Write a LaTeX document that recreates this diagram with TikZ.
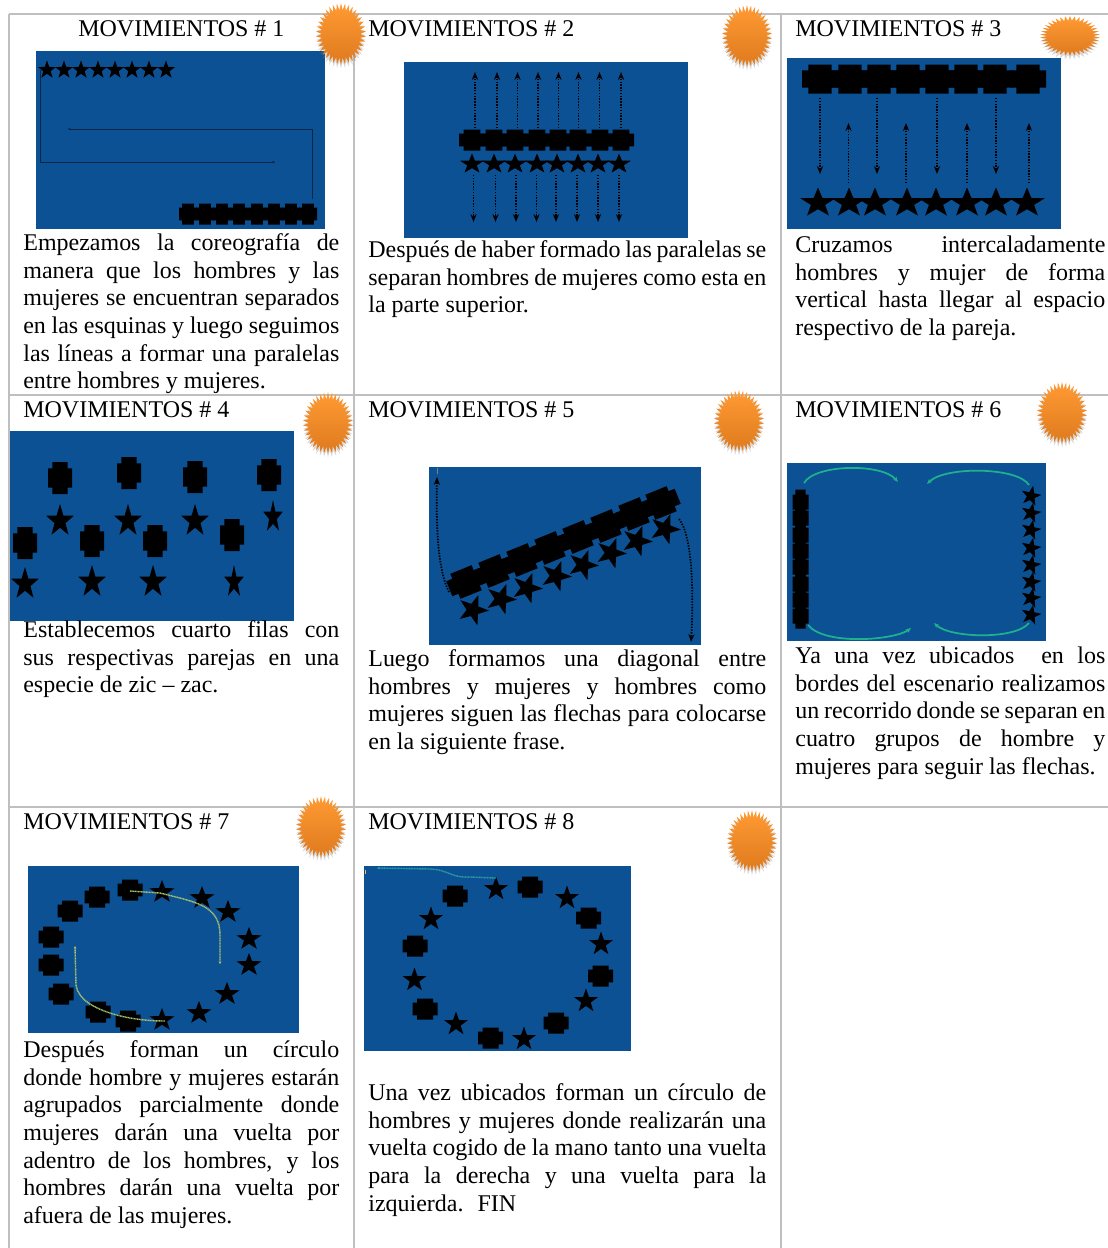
\documentclass[tikz,border=0pt]{standalone}
\usepackage{fontspec}
\setmainfont{Liberation Serif}
\usepackage{xcolor}
\usetikzlibrary{shapes.geometric, shadows, arrows.meta}
\definecolor{azul}{HTML}{0C5194}
\definecolor{rejilla}{HTML}{BFBFBF}
\definecolor{verde}{HTML}{1FB08C}
\definecolor{lima}{HTML}{A8C46C}
\definecolor{turquesa}{HTML}{2A9DA0}
\definecolor{oscuro}{HTML}{0A2645}
\definecolor{solclaro}{HTML}{FF9A33}
\definecolor{soloscuro}{HTML}{DE7A1E}
\tikzset{
  rejillalinea/.style={draw=rejilla, line width=1pt},
  fondo/.style={fill=azul},
  titulo/.style={anchor=base west, inner sep=0pt, font=\fontsize{13.65}{15.7}\selectfont},
  parrafo/.style={anchor=north west, inner sep=0pt, align=justify, font=\fontsize{13.65}{15.7}\selectfont, execute at begin node=\strut},
  estrella/.style={star, star points=5, star point ratio=2.5, fill=black, inner sep=0pt, minimum size=#1*0.02cm, transform shape},
  estrella/.default=20,
  sol/.style={star, star points=38, star point ratio=1.3, inner sep=0pt, minimum size=1cm, transform shape,
    top color=solclaro, bottom color=soloscuro,
    drop shadow={opacity=.3, shadow xshift=0pt, shadow yshift=-2pt}},
  flecha/.style={dash pattern=on .8pt off .8pt, line width=1pt, -{Stealth[length=4.5pt, width=3.5pt]}, black},
  linea/.style={draw=oscuro, line width=.5pt, -{Stealth[length=1.5pt, width=1.5pt]}},
  arco/.style={draw=verde, line width=1pt, -{Stealth[length=3pt, width=2.5pt]}},
  hilo/.style={dash pattern=on .6pt off .3pt, line width=.8pt, -{Stealth[length=1.5pt, width=1.5pt]}},
  hombre/.pic={\fill[black] (-.5,-.3) -- (-.32,-.3) -- (-.32,-.5) -- (.32,-.5) -- (.32,-.3) -- (.5,-.3)
    -- (.5,.3) -- (.32,.3) -- (.32,.5) -- (-.32,.5) -- (-.32,.3) -- (-.5,.3) -- cycle;}
}
\begin{document}
\begin{tikzpicture}[x=0.02cm, y=-0.02cm]
\useasboundingbox (0, 0) rectangle (1108, 1248);

\draw[rejillalinea] (9, 14) -- (1108, 14);
\draw[rejillalinea] (9, 395) -- (1108, 395);
\draw[rejillalinea] (9, 807) -- (1108, 807);
\draw[rejillalinea] (9, 14) -- (9, 1248);
\draw[rejillalinea] (354, 14) -- (354, 1248);
\draw[rejillalinea] (781, 14) -- (781, 1248);

\fill[fondo] (36, 51) rectangle (325, 229);
\fill[fondo] (404, 62) rectangle (688, 238);
\fill[fondo] (787, 58) rectangle (1061, 229);
\fill[fondo] (10, 431) rectangle (294, 621);
\fill[fondo] (429, 467) rectangle (701, 645);
\fill[fondo] (787, 463) rectangle (1046, 641);
\fill[fondo] (28, 866) rectangle (299, 1033);
\fill[fondo] (364, 866) rectangle (631, 1051);

\node[titulo] (t1) at (78, 36) {MOVIMIENTOS \# 1};
\node[titulo] (t2) at (368, 36) {MOVIMIENTOS \# 2};
\node[titulo] (t3) at (795, 36) {MOVIMIENTOS \# 3};
\node[titulo] (t4) at (23, 417) {MOVIMIENTOS \# 4};
\node[titulo] (t5) at (368, 417) {MOVIMIENTOS \# 5};
\node[titulo] (t6) at (795, 417) {MOVIMIENTOS \# 6};
\node[titulo] (t7) at (23, 829) {MOVIMIENTOS \# 7};
\node[titulo] (t8) at (368, 829) {MOVIMIENTOS \# 8};

\node[parrafo, text width=316*0.02cm] (p1) at (23, 231) {Empezamos la coreografía de\linebreak manera que los hombres y las\linebreak mujeres se encuentran separados\linebreak en las esquinas y luego seguimos\linebreak las líneas a formar una paralelas\linebreak entre hombres y mujeres.};
\node[parrafo, text width=398*0.02cm] (p2) at (368, 238) {Después de haber formado las paralelas se\linebreak separan hombres de mujeres como esta en\linebreak la parte superior.};
\node[parrafo, text width=310*0.02cm] (p3) at (795, 233) {Cruzamos intercaladamente\linebreak hombres y mujer de forma\linebreak vertical hasta llegar al espacio\linebreak respectivo de la pareja.};
\node[parrafo, text width=316*0.02cm] (p4) at (23, 618) {Establecemos cuarto filas con\linebreak sus respectivas parejas en una\linebreak especie de zic – zac.};
\node[parrafo, text width=398*0.02cm] (p5) at (368, 647) {Luego formamos una diagonal entre\linebreak hombres y mujeres y hombres como\linebreak mujeres siguen las flechas para colocarse\linebreak en la siguiente frase.};
\node[parrafo, text width=310*0.02cm] (p6) at (795, 644) {Ya una vez ubicados~ en los\linebreak bordes del escenario realizamos\linebreak un recorrido donde se separan en\linebreak cuatro grupos de hombre y\linebreak mujeres para seguir las flechas.};
\node[parrafo, text width=316*0.02cm] (p7) at (23, 1038) {Después forman un círculo\linebreak donde hombre y mujeres estarán\linebreak agrupados parcialmente donde\linebreak mujeres darán una vuelta por\linebreak adentro de los hombres, y los\linebreak hombres darán una vuelta por\linebreak afuera de las mujeres.};
\node[parrafo, text width=398*0.02cm] (p8) at (368, 1081) {Una vez ubicados forman un círculo de\linebreak hombres y mujeres donde realizarán una\linebreak vuelta cogido de la mano tanto una vuelta\linebreak para la derecha y una vuelta para la\linebreak izquierda.~ FIN};

\foreach \x [count=\i] in {47, 64, 81, 98, 115, 132, 149, 166}
  \node[estrella=19] (a\i) at (\x, 70) {};
\foreach \x in {188, 205, 222, 239, 257, 274, 291, 308}
  \pic[xscale=18, yscale=21] at (\x, 214) {hombre};
\draw[linea] (40, 70) -- (40, 162) -- (275, 162);
\draw[linea] (312, 199) -- (312, 129) -- (68, 129);

\foreach \x in {472, 494, 515, 537, 558, 578, 600, 621}
  \pic[xscale=26, yscale=21] at (\x, 140) {hombre};
\foreach \x [count=\i] in {472, 494, 515, 537, 557, 578, 598, 619}
  \node[estrella=21, xscale=1.2] (b\i) at (\x, 164) {};
\foreach \x in {475, 497, 517.5, 538, 558.5, 578.5, 599.5, 621}
  \draw[flecha] (\x, 128) -- (\x, 72);
\foreach \x in {473.5, 495.5, 516, 536.5, 556, 577, 598, 619}
  \draw[flecha] (\x, 175) -- (\x, 222);

\foreach \x in {820, 850, 879, 908, 937, 966, 995, 1028}
  \pic[xscale=36, yscale=29] at (\x, 79) {hombre};
\foreach \x [count=\i] in {818, 849, 875, 907, 936, 967, 996, 1027}
  \node[estrella=31, xscale=1.2] (c\i) at (\x, 203) {};
\foreach \x in {820, 877, 937, 996}
  \draw[flecha] (\x, 98) -- (\x, 174);
\foreach \x in {848.5, 906, 967, 1029}
  \draw[flecha] (\x, 183) -- (\x, 123);

\pic[xscale=24, yscale=32] at (60, 478) {hombre};
\pic[xscale=24, yscale=32] at (129, 473) {hombre};
\pic[xscale=24, yscale=32] at (195, 477) {hombre};
\pic[xscale=24, yscale=32] at (269, 475) {hombre};
\pic[xscale=24, yscale=32] at (25, 543) {hombre};
\pic[xscale=24, yscale=32] at (92, 541) {hombre};
\pic[xscale=24, yscale=32] at (155, 541) {hombre};
\pic[xscale=24, yscale=32] at (232, 535) {hombre};
\node[estrella=34, xscale=.85] (d1) at (60, 521) {};
\node[estrella=34, xscale=.85] (d2) at (128, 521) {};
\node[estrella=34, xscale=.85] (d3) at (195, 521) {};
\node[estrella=34, xscale=.6] (d4) at (273, 517) {};
\node[estrella=34, xscale=.85] (d5) at (25, 584) {};
\node[estrella=34, xscale=.85] (d6) at (92, 582) {};
\node[estrella=34, xscale=.85] (d7) at (153, 582) {};
\node[estrella=34, xscale=.6] (d8) at (234, 582) {};

\foreach \x/\y in {466/582, 494/571, 522/560, 550/548, 578/537, 606/526, 634/514, 661/503}
  \pic[rotate=22, xscale=36, yscale=27] at (\x, \y) {hombre};
\foreach \x/\y [count=\i] in {473/610, 501/599, 527/588, 556/576, 583/565, 611/553, 637/541, 665/529}
  \node[estrella=32, rotate=-20] (e\i) at (\x, \y) {};
\draw[flecha] (449, 592) .. controls (438, 570) and (436, 530) .. (437, 477);
\draw[flecha] (679, 519) .. controls (692, 535) and (694, 590) .. (691, 642);
\draw[draw=gray, line width=.5pt] (437, 468) -- (437, 474);

\foreach \y in {502, 518, 535, 551, 567, 584, 600, 616}
  \pic[xscale=16, yscale=25] at (800.5, \y) {hombre};
\foreach \y [count=\i] in {496, 513, 530, 548, 565, 582, 598, 615}
  \node[estrella=21, rotate=-12] (f\i) at (1031, \y) {};
\draw[arco] (804, 483) .. controls (815, 464) and (882, 463) .. (898, 482);
\draw[arco] (1029, 485) .. controls (1018, 467) and (945, 466) .. (927, 484);
\draw[arco] (808, 625) .. controls (825, 646) and (895, 640) .. (911, 628);
\draw[arco] (1029, 623) .. controls (1015, 640) and (950, 638) .. (934, 623);

\foreach \x/\y in {130/890, 97/897, 70/911, 51/937, 51/965, 61/994, 98/1012, 128/1021}
  \pic[xscale=25, yscale=21] at (\x, \y) {hombre};
\foreach \x/\y [count=\i] in {162/892, 202/898, 228/912, 249/939, 249/965, 227/994, 199/1013, 162/1020}
  \node[estrella=24, xscale=1.1] (g\i) at (\x, \y) {};
\draw[hilo, draw=lima] (130, 891) -- (160, 893) .. controls (195, 902) and (220, 905) .. (220, 935) -- (220, 964);
\draw[hilo, draw=lima] (165, 1021) .. controls (145, 1021) and (125, 1018) .. (110, 1013) .. controls (95, 1008) and (78, 1000) .. (76, 985) -- (75, 946);

\foreach \x/\y in {455/896, 530/887, 588.5/918, 600.5/976, 556/1023, 490.5/1038, 425/1009, 415/946}
  \pic[xscale=25, yscale=21] at (\x, \y) {hombre};
\foreach \x/\y [count=\i] in {496/889, 567/898, 601/944, 586/1001, 524/1039, 456/1024, 414.5/980, 431/919}
  \node[estrella=25] (h\i) at (\x, \y) {};
\draw[hilo, draw=turquesa] (496, 878) -- (470, 877) .. controls (450, 878) and (450, 870) .. (430, 869) -- (377, 868);
\draw[draw=orange!60!white, line width=.5pt] (365, 870) -- (365, 874);

\node[sol, yscale=1.24] (s1) at (341, 34) {};
\node[sol, yscale=1.24] (s2) at (747, 36) {};
\node[sol, xscale=1.2, yscale=.8] (s3) at (1070, 36) {};
\node[sol, yscale=1.24] (s4) at (328, 423) {};
\node[sol, yscale=1.24] (s5) at (739, 421) {};
\node[sol, yscale=1.24] (s6) at (1062, 413) {};
\node[sol, yscale=1.24] (s7) at (321, 827) {};
\node[sol, yscale=1.24] (s8) at (752, 841) {};

\end{tikzpicture}
\end{document}
